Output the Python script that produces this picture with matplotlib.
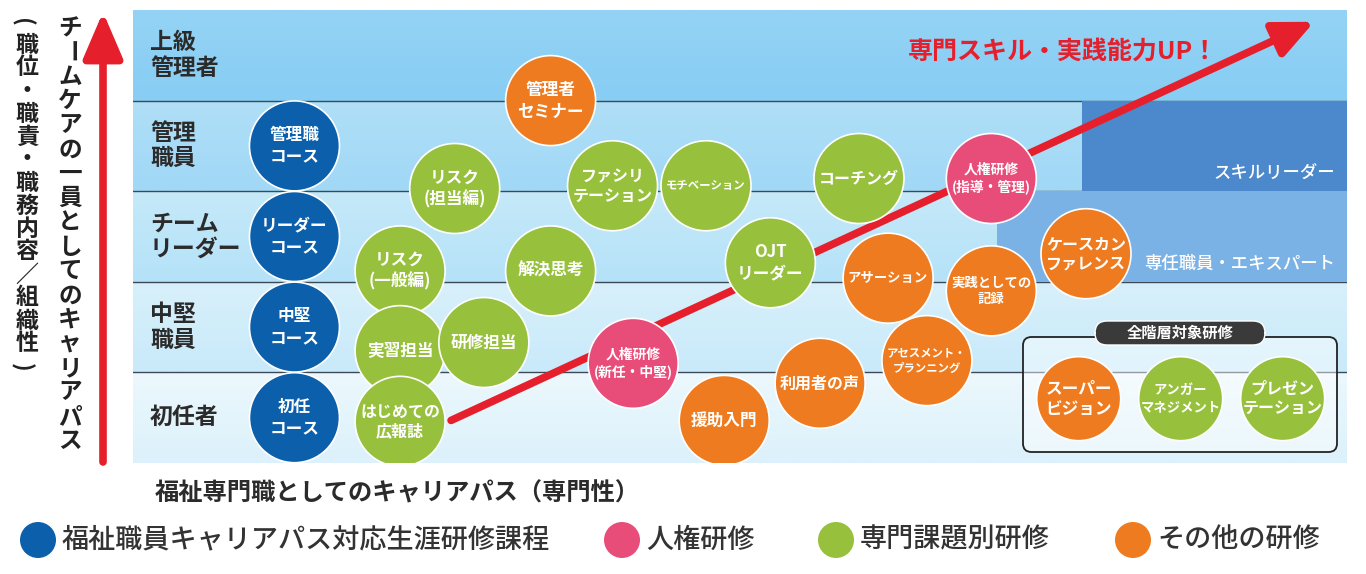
import matplotlib
matplotlib.use('Agg')
import matplotlib.pyplot as plt
from matplotlib.patches import Rectangle, FancyBboxPatch
import numpy as np

plt.rcParams['font.family'] = ['Noto Sans CJK JP', 'DejaVu Sans']

# ---------------- data ----------------
levels = ['初任者', '中堅\n職員', 'チーム\nリーダー', '管理\n職員', '上級\n管理者']
categories = ['福祉職員キャリアパス対応生涯研修課程', '人権研修', '専門課題別研修', 'その他の研修']

course_labels = ['管理職\nコース', 'リーダー\nコース', '中堅\nコース', '初任\nコース',
                 '管理者\nセミナー', 'リスク\n(担当編)', 'ファシリ\nテーション', 'モチベーション',
                 'コーチング', '人権研修\n(指導・管理)', 'リスク\n(一般編)', '解決思考',
                 'OJT\nリーダー', 'アサーション', '実践としての\n記録', 'ケースカン\nファレンス',
                 '実習担当', '研修担当', '人権研修\n(新任・中堅)', '利用者の声',
                 'アセスメント・\nプランニング', '援助入門', 'はじめての\n広報誌']
course_cat = [0, 0, 0, 0,
              3, 2, 2, 2,
              2, 1, 2, 2,
              2, 3, 3, 3,
              2, 2, 1, 3,
              3, 3, 2]
# x: specialty (0-100), y: level (0-5)
course_x = [13.3, 13.3, 13.3, 13.3,
            34.4, 26.5, 39.5, 47.2,
            59.8, 70.7, 22.0, 34.4,
            52.5, 62.2, 70.7, 78.5,
            22.0, 28.9, 41.2, 56.6,
            65.4, 48.7, 22.0]
course_y = [3.50, 2.50, 1.50, 0.50,
            4.00, 3.03, 3.06, 3.06,
            3.14, 3.14, 2.12, 2.12,
            2.21, 2.04, 1.90, 2.31,
            1.24, 1.33, 1.10, 0.88,
            1.13, 0.47, 0.46]

all_level_labels = ['スーパー\nビジョン', 'アンガー\nマネジメント', 'プレゼン\nテーション']
all_level_cat = [3, 2, 2]
all_level_x = [77.9, 86.3, 94.7]
all_level_y = [0.71, 0.71, 0.71]

skill_zones = ['専任職員・エキスパート', 'スキルリーダー']
zone_level = [2, 3]
zone_start = [71.2, 78.2]

trend_start = (26.2, 0.47)
trend_end = (97.3, 4.87)

# ---------------- styles ----------------
W, H = 1366, 574
cat_colors = ['#0b5fab', '#e84d7a', '#97c13d', '#ee7b1f']
band_colors = [('#dcf1fb', '#ecf8fd'), ('#c9eafa', '#d8f0fb'), ('#b5e2f8', '#c5e9f9'),
               ('#a0d8f6', '#b0dff7'), ('#88cdf4', '#94d3f5')]
zone_colors = ['#7ab2e6', '#4b89cc']

fig = plt.figure(figsize=(W / 100, H / 100), dpi=100)
fig.patch.set_facecolor('white')

px_left, px_right, px_top, px_bot = 133, 1347, 10, 463
ax = fig.add_axes([px_left / W, (H - px_bot) / H, (px_right - px_left) / W, (px_bot - px_top) / H])
ax.set_xlim(0, 100)
ax.set_ylim(0, 5)
ax.axis('off')
xu = (px_right - px_left) / 100.0   # px per x unit
yu = (px_bot - px_top) / 5.0        # px per y unit

# bands with gradient
for i, (cb, ct) in enumerate(band_colors):
    c1 = np.array(matplotlib.colors.to_rgb(ct))
    c0 = np.array(matplotlib.colors.to_rgb(cb))
    t = np.linspace(0, 1, 50)[:, None]
    grad = (c0 * (1 - t) + c1 * t)[:, None, :]
    ax.imshow(grad, extent=(0, 100, i, i + 1), origin='lower', aspect='auto', zorder=0)
for i in range(1, 5):
    ax.plot([0, 100], [i, i], color='#3d4a55', lw=1.0, zorder=1)

# zones
for name, lv, xs, col in zip(skill_zones, zone_level, zone_start, zone_colors):
    ax.add_patch(Rectangle((xs, lv), 100 - xs, 1, facecolor=col, edgecolor='none', zorder=1.5))
    ax.text(99.0, lv + 0.2, name, ha='right', va='center', color='white',
            fontsize=12.5, fontweight='medium', zorder=2)

# trend arrow
ax.annotate('', xy=trend_end, xytext=trend_start,
            arrowprops=dict(arrowstyle='-|>,head_length=1.1,head_width=0.5',
                            lw=5.5, color='#e5202c', shrinkA=0, shrinkB=0,
                            mutation_scale=22), zorder=3)
ax.text(76.6, 4.54, '専門スキル・実践能力UP！', ha='center', va='center', color='#e5202c',
        fontsize=18, fontweight='bold', zorder=3)

# level labels
for i, lab in enumerate(levels):
    ax.text(1.4, i + 0.5, lab, ha='left', va='center', fontsize=16.5, fontweight='bold',
            color='#2b2b2b', linespacing=1.15, zorder=2)


def char_w(ch):
    if ch in '()':
        return 0.4
    if ord(ch) < 128:
        return 0.6
    return 1.0


def label_size(lab):
    n = max(sum(char_w(ch) for ch in line) for line in lab.split('\n'))
    return min(12.0, 80.0 / (n * 1.389))


def draw_bubbles(xs, ys, labs, cats, diam_px):
    s = (diam_px * 0.72) ** 2
    ax.scatter(xs, ys, s=s, c=[cat_colors[c] for c in cats], edgecolors='white',
               linewidths=1.2, zorder=4)
    for x, y, lab in zip(xs, ys, labs):
        ax.text(x, y, lab, ha='center', va='center', color='white', fontsize=label_size(lab),
                fontweight='bold', linespacing=1.25, zorder=5)


draw_bubbles(course_x, course_y, course_labels, course_cat, 90)

# all-level box
bx0, bx1 = (1023 - px_left) / xu, (1337 - px_left) / xu
by0, by1 = (px_bot - 452) / yu, (px_bot - 337) / yu
ax.add_patch(FancyBboxPatch((bx0, by0), bx1 - bx0, by1 - by0,
                            boxstyle='round,pad=0,rounding_size=0.7', mutation_aspect=xu / yu,
                            facecolor=(1, 1, 1, 0.45), edgecolor='#222222', lw=1.3, zorder=3.5))
pw, ph = 170 / xu, 24 / yu
pcx, pcy = (1180 - px_left) / xu, (px_bot - 333) / yu
ax.add_patch(FancyBboxPatch((pcx - pw / 2, pcy - ph / 2), pw, ph,
                            boxstyle='round,pad=0,rounding_size=1.0', mutation_aspect=xu / yu,
                            facecolor='#3a3a3a', edgecolor='white', lw=1.0, zorder=3.6))
ax.text(pcx, pcy, '全階層対象研修', ha='center', va='center', color='white', fontsize=11,
        fontweight='bold', zorder=3.7)
draw_bubbles(all_level_x, all_level_y, all_level_labels, all_level_cat, 84)

# ---------------- overlay (pixel coords) ----------------
ov = fig.add_axes([0, 0, 1, 1])
ov.set_xlim(0, W)
ov.set_ylim(H, 0)
ov.axis('off')

ov.annotate('', xy=(103, 12), xytext=(103, 462),
            arrowprops=dict(arrowstyle='-|>,head_length=1.4,head_width=0.6', lw=5.5,
                            color='#e5202c', shrinkA=0, shrinkB=0, mutation_scale=20))

rot_chars = {'ー': -90, '(': -90, ')': -90}
col1 = 'チームケアの一員としてのキャリアパス'
col2 = '(職位・職責・職務内容／組織性)'
for i, ch in enumerate(col1):
    ov.text(70, 28 + i * 24.3, ch, ha='center', va='center', fontsize=17, fontweight='bold',
            color='#222222', rotation=rot_chars.get(ch, 0))
for i, ch in enumerate(col2):
    dx = -6 if ch in '()' else 0
    ov.text(27 + dx, 22 + i * 23.0, ch, ha='center', va='center', fontsize=16.5,
            fontweight='bold', color='#222222', rotation=rot_chars.get(ch, 0))

ov.text(155, 493, '福祉専門職としてのキャリアパス（専門性）', ha='left', va='center',
        fontsize=17.5, fontweight='bold', color='#2b2b2b')

leg_x = [38, 622, 836, 1133]
for cx, cat, col in zip(leg_x, categories, cat_colors):
    ov.scatter([cx], [540], s=(36 * 0.72) ** 2, color=col, edgecolors='none')
    ov.text(cx + 24, 540, cat, ha='left', va='center', fontsize=19.5, fontweight='medium',
            color='#333333')

fig.savefig('out.png', dpi=100, facecolor='white')
